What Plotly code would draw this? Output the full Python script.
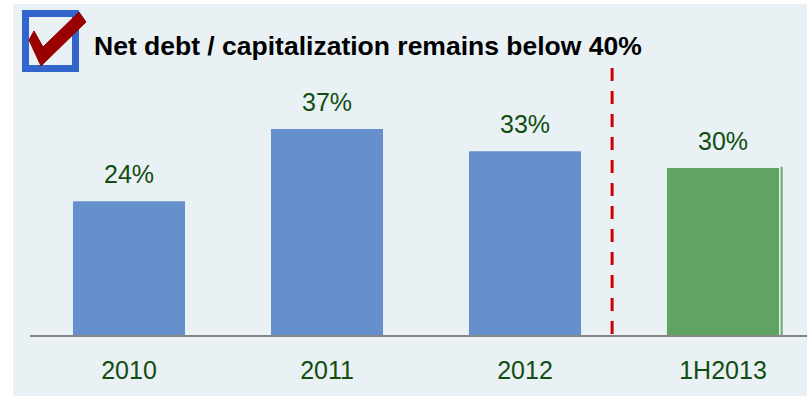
import plotly.graph_objects as go

# Net debt / capitalization by period
periods = ["2010", "2011", "2012", "1H2013"]
ratios = [24, 37, 33, 30]
bar_colors = ["#6690cc", "#6690cc", "#6690cc", "#5fa463"]
value_labels = [f"{v}%" for v in ratios]
title_text = "Net debt / capitalization remains below 40%"

W, H = 807, 396
ML, MR, MT, MB = 30, 0, 20, 61
PLOT_W = W - ML - MR
PLOT_H = H - MT - MB
Y_MAX = PLOT_H / 5.57
PANEL = "#e9f1f5"
TEXT_GREEN = "#124d12"
FONT = "Liberation Sans, Arial, Helvetica, sans-serif"
BAR_WIDTH = 0.566


def px_x(px):
    return (px - ML) / PLOT_W


def px_y(py):
    return 1 - (py - MT) / PLOT_H


fig = go.Figure()
fig.add_trace(go.Bar(
    x=periods,
    y=ratios,
    width=BAR_WIDTH,
    marker=dict(color=bar_colors, line=dict(width=0)),
    hoverinfo="skip",
))

# value labels above each bar (category index positions)
for i, (v, lab) in enumerate(zip(ratios, value_labels)):
    fig.add_annotation(x=i, y=v, text=lab, showarrow=False, yanchor="middle",
                       yshift=27, font=dict(family=FONT, size=25, color=TEXT_GREEN))

shapes = []
# white margin strips around the panel
shapes.append(dict(type="rect", xref="paper", yref="paper", x0=px_x(0), x1=px_x(13),
                   y0=px_y(H), y1=px_y(0), fillcolor="white", line=dict(width=0), layer="below"))
shapes.append(dict(type="rect", xref="paper", yref="paper", x0=px_x(0), x1=px_x(W),
                   y0=px_y(4), y1=px_y(0), fillcolor="white", line=dict(width=0), layer="below"))

# divider between full years and the half year
divider_x = 2.44
shapes.append(dict(type="line", xref="x", yref="y", x0=divider_x, x1=divider_x,
                   y0=(H - MB - 68) / 5.57, y1=-(352 - (H - MB)) / 5.57,
                   line=dict(color="#cc0000", width=3, dash="13px,10px")))

# thin edge line beside the last bar
last = len(periods) - 1
edge_x = last + BAR_WIDTH / 2 + 0.013
shapes.append(dict(type="line", xref="x", yref="y", x0=edge_x, x1=edge_x,
                   y0=-0.3, y1=ratios[last] + 0.2,
                   line=dict(color="#62ad67", width=2)))

# checkbox icon
shapes.append(dict(type="rect", xref="paper", yref="paper",
                   x0=px_x(25.5), x1=px_x(75.5), y0=px_y(68.5), y1=px_y(13.5),
                   line=dict(color="#3366cc", width=7), fillcolor=PANEL))
check_pts = [(29, 40), (34, 31), (43, 47), (79, 12), (86, 22), (41, 66)]
path = "M " + " L ".join(f"{px_x(a):.5f},{px_y(b):.5f}" for a, b in check_pts) + " Z"
shapes.append(dict(type="path", xref="paper", yref="paper", path=path,
                   fillcolor="#990000", line=dict(color="#990000", width=1)))

fig.add_annotation(xref="paper", yref="paper", x=px_x(92), y=px_y(46),
                   xanchor="left", yanchor="middle", showarrow=False,
                   text=f"<b>{title_text}</b>",
                   font=dict(family=FONT, size=26.5, color="black"))

fig.update_layout(
    width=W, height=H,
    margin=dict(l=ML, r=MR, t=MT, b=MB),
    paper_bgcolor=PANEL,
    plot_bgcolor=PANEL,
    showlegend=False,
    shapes=shapes,
    xaxis=dict(type="category", range=[-0.5, -0.5 + PLOT_W / 198], showgrid=False,
               zeroline=False, showline=True, linecolor="#868686", linewidth=2, ticks="",
               ticklabelstandoff=12,
               tickfont=dict(family=FONT, size=25, color=TEXT_GREEN),
               fixedrange=True),
    yaxis=dict(range=[0, Y_MAX], visible=False, fixedrange=True),
)

fig.write_html("out.html")
